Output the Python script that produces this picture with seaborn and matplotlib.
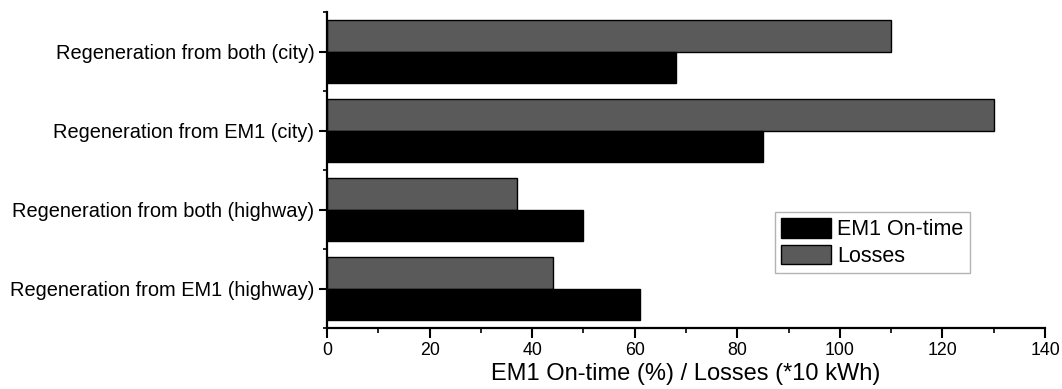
import matplotlib
matplotlib.use("Agg")
import matplotlib.pyplot as plt
from matplotlib.patches import Patch
from matplotlib.ticker import MultipleLocator, FixedLocator
import pandas as pd
import seaborn as sns

# Scenario names (top to bottom) and measured quantities
categories = [
    "Regeneration from both (city)",
    "Regeneration from EM1 (city)",
    "Regeneration from both (highway)",
    "Regeneration from EM1 (highway)",
]
em1_on_time = [68, 85, 50, 61]      # EM1 on-time, %
losses = [110, 130, 37, 44]         # losses, *10 kWh
series_names = ["EM1 On-time", "Losses"]
x_ticks = [0, 20, 40, 60, 80, 100, 120, 140]

df = pd.DataFrame({
    "scenario": categories * 2,
    "value": em1_on_time + losses,
    "series": [series_names[0]] * len(categories) + [series_names[1]] * len(categories),
})

sns.set_theme(style="ticks")
plt.rcParams["font.family"] = ["Liberation Sans", "DejaVu Sans"]
plt.rcParams["text.color"] = "black"
plt.rcParams["axes.labelcolor"] = "black"

colors = {"EM1 On-time": "#000000", "Losses": "#5a5a5a"}

fig = plt.figure(figsize=(10.62, 3.89), dpi=100)
ax = fig.add_axes([0.3079, 0.1568, 0.6761, 0.8111])

sns.barplot(
    data=df, y="scenario", x="value", hue="series",
    order=categories, hue_order=["Losses", "EM1 On-time"],
    palette=colors, orient="h", width=0.8,
    edgecolor="black", linewidth=1.0, saturation=1, ax=ax, legend=False,
)

ax.set_xlim(0, 140)
ax.set_ylim(len(categories) - 0.5, -0.5)
ax.xaxis.set_major_locator(FixedLocator(x_ticks))
ax.xaxis.set_minor_locator(MultipleLocator(10))
ax.yaxis.set_minor_locator(FixedLocator([i - 0.5 for i in range(len(categories) + 1)]))

ax.set_ylabel("")
ax.set_xlabel("EM1 On-time (%) / Losses (*10 kWh)", fontsize=17, labelpad=3, color="black")

for side in ("top", "right"):
    ax.spines[side].set_visible(False)
for side in ("left", "bottom"):
    ax.spines[side].set_linewidth(1.6)
    ax.spines[side].set_color("black")

ax.tick_params(axis="x", which="major", length=7, width=1.5, labelsize=12.8, pad=3, colors="black")
ax.tick_params(axis="x", which="minor", length=3.5, width=1.2, colors="black")
ax.tick_params(axis="y", which="major", length=6, width=1.5, labelsize=14.4, pad=3, colors="black")
ax.tick_params(axis="y", which="minor", length=3, width=1.2, colors="black")

handles = [Patch(facecolor=colors[s], edgecolor="black", linewidth=1.0) for s in series_names]
leg = ax.legend(
    handles, series_names, loc="upper left", bbox_to_anchor=(0.624, 0.368),
    fontsize=15.5, frameon=True, fancybox=False, borderaxespad=0,
    handlelength=2.3, handleheight=1.0, handletextpad=0.3,
    labelspacing=0.2, borderpad=0.3, labelcolor="black",
)
leg.get_frame().set_edgecolor("#a0a0a0")
leg.get_frame().set_linewidth(1.0)

fig.savefig("out.png", dpi=100)
